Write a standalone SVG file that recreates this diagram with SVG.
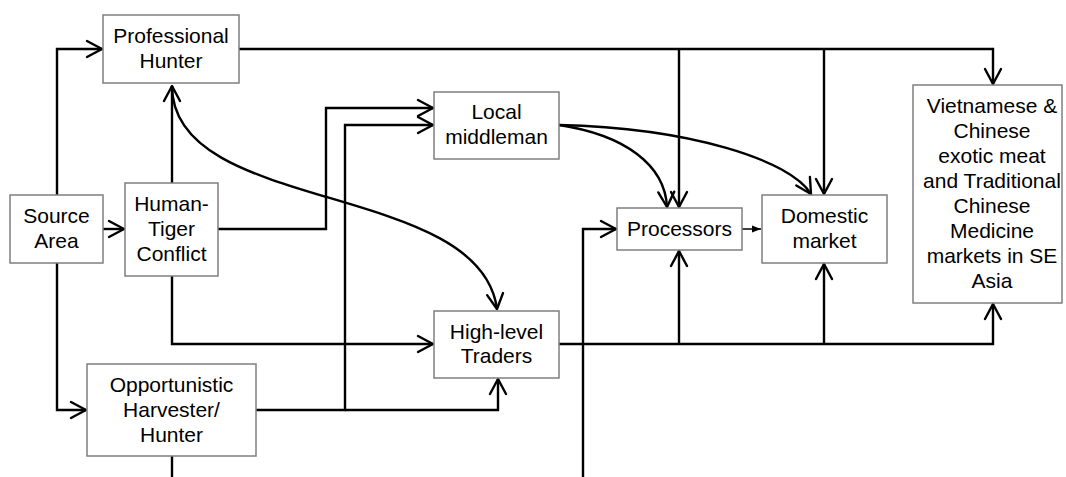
<svg xmlns="http://www.w3.org/2000/svg" width="1066" height="477" viewBox="0 0 1066 477">
<defs>
<style>
.box{fill:#fff;stroke:#7f7f7f;stroke-width:1.5}
.lbl{font-family:"Liberation Sans",Arial,sans-serif;font-size:21px;fill:#000;text-anchor:middle}
.c{fill:none;stroke:#000;stroke-width:2.4}
.a{marker-end:url(#arr)}
</style>
<marker id="arr" markerUnits="userSpaceOnUse" viewBox="-17 -10 19 20" markerWidth="19" markerHeight="20" refX="0" refY="0" orient="auto">
<path d="M-15,-8 L0,0 L-15,8" fill="none" stroke="#000" stroke-width="2.4" stroke-linejoin="round" stroke-linecap="round"/>
</marker>
<marker id="tri" markerUnits="userSpaceOnUse" viewBox="-9 -4 10 8" markerWidth="10" markerHeight="8" refX="0" refY="0" orient="auto">
<path d="M-9,-3.5 L0,0 L-9,3.5 Z" fill="#000"/>
</marker>
</defs>
<rect width="1066" height="477" fill="#fff"/>
<g id="connectors">
<path class="c a" d="M57,195 V49 H102"/>
<path class="c a" d="M103,229 H124"/>
<path class="c a" d="M57,263 V410 H86"/>
<path class="c a" d="M172,183 V86"/>
<path class="c a" d="M172,86 C172,215 480,180 497,309"/>
<path class="c a" d="M218,229 H326 V108 H433"/>
<path class="c a" d="M256,410 H345 V125 H433"/>
<path class="c a" d="M345,410 H498 V379"/>
<path class="c a" d="M172,276 V344 H433"/>
<path class="c" d="M172,456 V477"/>
<path class="c a" d="M239,49 H993 V84"/>
<path class="c a" d="M679,49 V207"/>
<path class="c a" d="M824,49 V194"/>
<path class="c a" d="M559,125 C625,135 665,165 667,207"/>
<path class="c a" d="M559,125 C690,128 790,160 811,194"/>
<path class="c a" d="M559,344 H993 V304"/>
<path class="c a" d="M679,344 V251"/>
<path class="c a" d="M824,344 V264"/>
<path class="c a" d="M583,477 V229 H616"/>
<path d="M742,229 H761" fill="none" stroke="#000" stroke-width="1.5" marker-end="url(#tri)"/>
</g>
<g id="professional-hunter">
<rect class="box" x="103" y="15" width="136" height="68"/>
<text class="lbl" x="171" y="43">Professional</text>
<text class="lbl" x="171" y="68">Hunter</text>
</g>
<g id="source-area">
<rect class="box" x="10" y="195" width="93" height="68"/>
<text class="lbl" x="56.5" y="223">Source</text>
<text class="lbl" x="56.5" y="248">Area</text>
</g>
<g id="human-tiger-conflict">
<rect class="box" x="125" y="183" width="93" height="93"/>
<text class="lbl" x="171.5" y="211">Human-</text>
<text class="lbl" x="171.5" y="236">Tiger</text>
<text class="lbl" x="171.5" y="261">Conflict</text>
</g>
<g id="opportunistic-harvester">
<rect class="box" x="87" y="364" width="169" height="92"/>
<text class="lbl" x="171.5" y="392">Opportunistic</text>
<text class="lbl" x="171.5" y="417">Harvester/</text>
<text class="lbl" x="171.5" y="442">Hunter</text>
</g>
<g id="local-middleman">
<rect class="box" x="434" y="92" width="125" height="67"/>
<text class="lbl" x="496.5" y="119">Local</text>
<text class="lbl" x="496.5" y="144">middleman</text>
</g>
<g id="high-level-traders">
<rect class="box" x="434" y="311" width="125" height="67"/>
<text class="lbl" x="496.5" y="339">High-level</text>
<text class="lbl" x="496.5" y="363">Traders</text>
</g>
<g id="processors">
<rect class="box" x="617" y="208" width="125" height="42"/>
<text class="lbl" x="679.5" y="236">Processors</text>
</g>
<g id="domestic-market">
<rect class="box" x="762" y="195" width="125" height="68"/>
<text class="lbl" x="824.5" y="223">Domestic</text>
<text class="lbl" x="824.5" y="248">market</text>
</g>
<g id="vietnamese-chinese-markets">
<rect class="box" x="913" y="85" width="149" height="218"/>
<text class="lbl" x="992" y="113">Vietnamese &amp;</text>
<text class="lbl" x="992" y="138">Chinese</text>
<text class="lbl" x="992" y="163">exotic meat</text>
<text class="lbl" x="992" y="188">and Traditional</text>
<text class="lbl" x="992" y="213">Chinese</text>
<text class="lbl" x="992" y="238">Medicine</text>
<text class="lbl" x="992" y="263">markets in SE</text>
<text class="lbl" x="992" y="288">Asia</text>
</g>
</svg>
